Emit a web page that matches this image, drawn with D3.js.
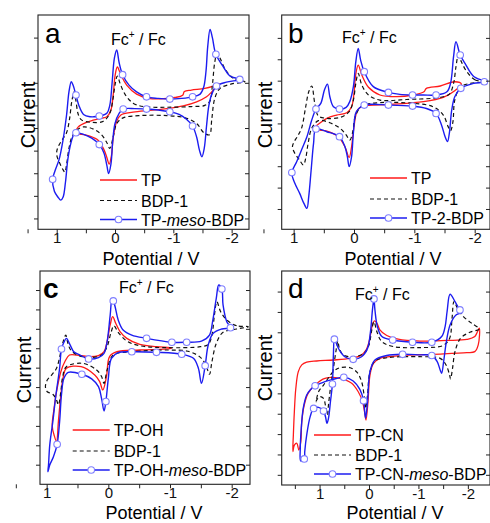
<!DOCTYPE html>
<html>
<head>
<meta charset="utf-8">
<script src="https://cdn.jsdelivr.net/npm/d3@7"></script>
<style>
  body { margin: 0; background: #fff; }
  svg { display: block; font-family: Arial, "Liberation Sans", sans-serif; }
</style>
</head>
<body>
<svg id="chart" width="490" height="523"></svg>
<script>
// potential (V) vs current (arbitrary units, one unit = one y tick); third value 1 = symbol on the curve

// panel a
const aTP = [[-1.80,5.95],[-1.69,5.85],[-1.54,5.75],[-1.31,5.68],[-1.19,5.62],[-1.16,5.45],[-1.03,5.35],[-0.83,5.3],[-0.6,5.3],[-0.37,5.5],[-0.2,5.9],[-0.1,6.35],[-0.04,6.7],[0.0,6.3],[0.03,5.5],[0.07,4.8],[0.14,4.5],[0.26,4.42],[0.49,4.25],[0.63,4.05],[0.66,3.9],[0.64,3.75],[0.51,3.7],[0.31,3.5],[0.2,3.1],[0.14,2.7],[0.10,2.4],[0.06,2.8],[0.03,3.6],[-0.03,4.3],[-0.1,4.58],[-0.31,4.7],[-0.6,4.78],[-0.89,4.86],[-1.17,4.98],[-1.4,5.16],[-1.57,5.38],[-1.69,5.68]];
const aBDP = [[-2.23,6.05],[-2.03,6.2],[-1.89,6.6],[-1.80,7.1],[-1.75,7.3],[-1.71,6.9],[-1.67,5.9],[-1.63,5.2],[-1.54,5.0],[-1.31,4.95],[-0.89,4.92],[-0.49,4.95],[-0.31,5.1],[-0.17,5.5],[-0.09,5.95],[-0.04,6.3],[0.0,5.9],[0.04,5.2],[0.09,4.65],[0.2,4.3],[0.4,4.25],[0.57,4.35],[0.63,4.6],[0.67,5.2],[0.70,5.6],[0.74,5.2],[0.78,4.4],[0.83,3.8],[0.9,3.5],[0.97,3.2],[1.0,2.95],[0.99,2.7],[0.94,2.4],[0.89,2.15],[0.86,2.05],[0.83,2.4],[0.79,3.1],[0.74,3.6],[0.66,3.9],[0.54,4.05],[0.37,3.95],[0.23,3.7],[0.14,3.35],[0.09,3.1],[0.04,3.5],[-0.03,4.2],[-0.14,4.45],[-0.43,4.55],[-0.89,4.55],[-1.2,4.45],[-1.4,4.2],[-1.52,3.8],[-1.62,3.7],[-1.66,4.4],[-1.71,5.3],[-1.80,5.75],[-2.0,5.95]];
const aMeso = [[-2.14,6.15,1],[-1.97,6.30],[-1.86,6.70],[-1.73,7.26,1],[-1.67,8.0],[-1.63,8.36],[-1.59,7.6],[-1.56,6.5],[-1.52,5.8],[-1.46,5.5],[-1.33,5.38,1],[-1.14,5.31],[-0.94,5.28,1],[-0.74,5.31],[-0.54,5.38,1],[-0.37,5.6],[-0.24,5.9],[-0.13,6.36,1],[-0.07,6.9],[-0.03,7.45],[0.01,7.1],[0.05,6.0],[0.09,5.0],[0.14,4.65],[0.27,4.53,1],[0.43,4.5],[0.54,4.6],[0.62,5.0],[0.67,5.46,1],[0.72,5.9],[0.75,6.05],[0.79,5.6],[0.83,4.6],[0.89,3.5],[0.96,2.6],[1.03,2.1],[1.07,1.73,1],[1.04,1.2],[0.98,0.95],[0.93,0.81],[0.89,0.95],[0.85,1.6],[0.81,2.6],[0.76,3.3],[0.71,3.7],[0.67,3.79,1],[0.54,3.72],[0.40,3.55],[0.27,3.27,1],[0.19,2.9],[0.14,2.35],[0.11,1.99],[0.07,2.4],[0.04,3.4],[0.0,4.2],[-0.07,4.65],[-0.14,4.84,1],[-0.34,4.86],[-0.54,4.84,1],[-0.74,4.80],[-0.94,4.72,1],[-1.1,4.6],[-1.22,4.4],[-1.33,4.09,1],[-1.40,3.6],[-1.45,3.0],[-1.49,2.73],[-1.53,3.1],[-1.57,4.1],[-1.61,5.0],[-1.66,5.5],[-1.74,5.86,1],[-1.91,6.03]];

// panel b
const bTP = [[-1.78,5.84],[-1.67,5.95],[-1.43,5.75],[-1.20,5.64],[-1.16,5.48],[-0.98,5.33],[-0.71,5.25],[-0.43,5.33],[-0.24,5.69],[-0.13,6.26],[-0.07,6.73],[-0.03,6.31],[0.0,5.40],[0.04,4.78],[0.12,4.50],[0.29,4.39],[0.45,4.24],[0.56,4.03],[0.63,3.85],[0.61,3.72],[0.45,3.64],[0.26,3.38],[0.15,2.91],[0.08,2.41],[0.04,2.91],[0.0,3.85],[-0.06,4.63],[-0.15,4.81],[-0.60,4.89],[-1.15,5.02],[-1.48,5.22],[-1.67,5.53]];
const bBDP = [[-2.17,5.95],[-2.01,6.03],[-1.87,6.42],[-1.78,6.88],[-1.73,7.20],[-1.69,6.65],[-1.65,5.87],[-1.58,5.37],[-1.43,5.22],[-0.87,5.12],[-0.43,5.09],[-0.24,5.33],[-0.13,5.79],[-0.07,6.34],[-0.03,5.87],[0.01,5.09],[0.08,4.55],[0.23,4.28],[0.45,4.24],[0.59,4.35],[0.65,4.94],[0.70,5.75],[0.75,5.48],[0.80,4.78],[0.87,3.77],[0.94,3.38],[0.99,3.15],[1.02,2.91],[0.98,2.60],[0.91,2.32],[0.84,2.06],[0.80,2.37],[0.76,3.07],[0.70,3.77],[0.59,4.13],[0.40,4.03],[0.23,3.77],[0.13,3.46],[0.07,3.22],[0.02,3.61],[-0.02,4.31],[-0.13,4.81],[-0.43,4.97],[-0.98,4.94],[-1.31,4.78],[-1.48,4.39],[-1.56,3.85],[-1.60,3.66],[-1.64,4.08],[-1.67,5.09],[-1.76,5.69],[-1.92,5.87]];
const b2BDP = [[-2.16,5.95,1],[-1.98,6.21],[-1.84,6.81],[-1.76,7.20,1],[-1.69,7.82],[-1.65,7.12],[-1.60,5.87],[-1.54,5.48],[-1.36,5.33,1],[-1.15,5.33],[-0.97,5.33,1],[-0.76,5.36],[-0.57,5.45,1],[-0.32,5.72],[-0.17,6.42,1],[-0.11,6.96],[-0.07,7.51],[-0.03,6.88],[0.01,5.72],[0.07,5.02],[0.13,4.75],[0.24,4.67,1],[0.34,4.78],[0.40,5.25],[0.44,5.84],[0.49,5.56],[0.55,4.94],[0.63,4.67,1],[0.70,4.16],[0.78,3.38],[0.87,2.76],[0.95,2.21],[1.03,1.70,1],[0.98,1.20],[0.90,0.73],[0.83,0.26],[0.78,0.03],[0.75,0.58],[0.71,1.82],[0.67,3.07],[0.63,3.74,1],[0.45,3.61],[0.24,3.38,1],[0.15,2.91],[0.11,2.45],[0.08,1.98],[0.04,2.45],[0.01,3.54],[-0.04,4.55],[-0.17,4.86,1],[-0.57,4.86,1],[-0.97,4.81,1],[-1.20,4.70],[-1.36,4.47,1],[-1.45,3.93],[-1.51,3.38],[-1.55,3.15],[-1.58,3.54],[-1.62,4.63],[-1.67,5.25],[-1.77,5.64,1],[-1.98,5.87]];

// panel c
const cTPOH = [[-1.03,6.03],[-0.78,6.08],[-0.51,6.20],[-0.30,6.51],[-0.19,6.86],[-0.12,7.29],[-0.07,7.63],[-0.03,7.20],[0.02,6.34],[0.07,5.82],[0.16,5.62],[0.33,5.57],[0.51,5.65],[0.63,5.65],[0.70,5.34],[0.77,4.79],[0.84,3.76],[0.88,2.90],[0.91,1.99],[0.88,1.53],[0.84,1.19],[0.81,2.22],[0.77,3.59],[0.73,4.54],[0.68,4.97],[0.44,5.05],[0.22,4.62],[0.14,4.28],[0.09,3.85],[0.03,4.54],[-0.02,5.57],[-0.14,5.82],[-0.51,5.91],[-1.0,5.98]];
const cBDP = [[-2.27,7.11],[-2.08,7.16],[-1.92,7.46],[-1.82,7.89],[-1.76,8.40],[-1.72,7.71],[-1.68,6.68],[-1.62,6.20],[-1.49,6.08],[-0.95,6.03],[-0.51,6.13],[-0.30,6.37],[-0.16,6.82],[-0.09,7.16],[-0.04,6.77],[0.02,6.08],[0.11,5.65],[0.30,5.52],[0.50,5.65],[0.61,5.91],[0.66,6.31],[0.69,6.68],[0.73,6.37],[0.77,5.82],[0.84,4.97],[0.92,4.62],[0.99,4.36],[1.02,4.02],[0.99,3.76],[0.90,3.63],[0.84,3.33],[0.81,3.08],[0.77,3.76],[0.74,4.54],[0.68,5.05],[0.41,5.22],[0.19,4.88],[0.11,4.54],[0.07,4.19],[0.02,4.88],[-0.08,5.65],[-0.41,5.82],[-0.95,5.91],[-1.32,5.82],[-1.51,5.48],[-1.59,5.05],[-1.64,4.66],[-1.68,5.31],[-1.75,6.25],[-1.86,6.82],[-2.08,6.99]];
const cMeso = [[-1.98,7.06,1],[-1.92,7.37],[-1.86,8.23],[-1.84,9.05,1],[-1.79,9.26],[-1.75,8.57],[-1.69,7.37],[-1.64,6.68],[-1.51,6.37],[-1.27,6.31,1],[-1.03,6.31,1],[-0.62,6.51,1],[-0.38,6.68],[-0.24,6.94],[-0.16,7.46],[-0.11,8.14],[-0.08,8.44,1],[-0.06,8.49],[-0.03,7.71],[0.02,6.34],[0.07,5.74],[0.16,5.52],[0.32,5.45,1],[0.46,5.65],[0.56,5.82],[0.62,6.17],[0.68,6.51],[0.72,6.31],[0.76,5.96,1],[0.79,4.97],[0.85,3.59],[0.90,2.22],[0.95,1.01],[0.97,-0.02],[0.98,-0.36],[0.95,-0.02],[0.89,0.41],[0.83,1.05,1],[0.79,2.22],[0.76,3.59],[0.72,4.45],[0.65,4.76],[0.43,4.66,1],[0.27,4.42],[0.16,4.02],[0.11,3.42],[0.07,2.77],[0.04,3.25,1],[0.0,4.45],[-0.05,5.48],[-0.16,5.77],[-0.38,5.82,1],[-0.78,5.79,1],[-1.19,5.69,1],[-1.38,5.48],[-1.46,4.97],[-1.51,4.19],[-1.57,5.10,1],[-1.62,6.17],[-1.70,6.77],[-1.84,6.99]];

// panel d
const dTPCN = [[-2.23,7.20],[-2.14,6.79],[-1.98,6.65],[-1.57,6.60],[-1.03,6.57],[-0.59,6.66],[-0.36,6.84],[-0.22,7.12],[-0.16,7.45],[-0.11,7.56],[-0.06,7.28],[-0.01,6.62],[0.06,6.13],[0.18,5.84],[0.38,5.72],[0.72,5.64],[1.06,5.59],[1.26,5.53],[1.36,5.40],[1.43,5.07],[1.48,4.25],[1.51,3.10],[1.53,1.96],[1.54,1.14],[1.51,1.46],[1.46,1.55],[1.42,1.22],[1.38,1.63],[1.36,2.61],[1.31,3.43],[1.23,4.01],[1.09,4.42],[0.89,4.74],[0.59,4.74],[0.35,4.50],[0.22,4.09],[0.13,3.59],[0.08,2.94],[0.06,2.69],[0.02,3.59],[-0.02,4.90],[-0.09,5.47],[-0.22,5.72],[-0.63,5.85],[-1.30,5.92],[-1.98,6.00],[-2.14,6.05],[-2.21,6.38]];
const dBDP = [[-2.23,7.16],[-2.08,7.44],[-1.91,7.77],[-1.79,8.18],[-1.72,8.51],[-1.68,7.69],[-1.63,6.70],[-1.50,6.35],[-1.03,6.25],[-0.49,6.30],[-0.26,6.54],[-0.16,7.03],[-0.10,7.52],[-0.05,7.03],[0.0,6.38],[0.10,5.97],[0.32,5.80],[0.52,5.89],[0.60,6.21],[0.63,6.57],[0.67,6.05],[0.72,5.23],[0.78,4.25],[0.82,3.43],[0.84,2.94],[0.88,3.40],[0.92,3.75],[0.99,3.84],[1.06,3.67],[1.07,3.59],[1.02,4.08],[0.92,4.41],[0.72,5.07],[0.59,5.26],[0.38,5.26],[0.24,5.03],[0.15,4.58],[0.10,3.92],[0.07,3.26],[0.03,3.92],[-0.02,5.07],[-0.12,5.59],[-0.36,5.75],[-1.03,5.80],[-1.44,5.72],[-1.56,5.39],[-1.63,4.90],[-1.65,4.71],[-1.69,5.23],[-1.74,6.05],[-1.85,6.70],[-2.04,7.0]];
const dMeso = [[-1.89,7.98],[-1.84,8.10,1],[-1.74,8.51],[-1.64,8.87],[-1.58,8.02],[-1.54,7.28],[-1.47,6.79],[-1.27,6.51,1],[-0.88,6.51,1],[-0.48,6.62,1],[-0.26,6.79],[-0.17,7.28],[-0.12,8.10],[-0.10,8.64,1],[-0.07,8.10],[-0.03,7.03],[0.03,6.21],[0.15,5.80],[0.32,5.67,1],[0.49,5.80],[0.60,6.13],[0.67,6.51],[0.70,6.66,1],[0.72,5.89],[0.74,4.46,1],[0.78,3.59],[0.82,2.77],[0.85,2.53],[0.88,2.85],[0.92,3.13,1],[1.02,3.31],[1.12,3.26,1],[1.19,2.86],[1.26,1.96],[1.30,1.14],[1.31,0.78,1],[1.38,0.68],[1.39,1.30],[1.37,2.28],[1.33,3.27],[1.26,3.92],[1.19,4.17],[1.09,4.37,1],[0.89,4.58],[0.74,4.68],[0.51,4.79,1],[0.32,4.61],[0.18,4.17],[0.11,3.64,1],[0.07,2.78],[0.03,3.59],[-0.02,5.07],[-0.12,5.64],[-0.36,5.86],[-0.68,5.92,1],[-1.03,5.89],[-1.27,5.86,1],[-1.38,5.56],[-1.44,5.15],[-1.47,4.99],[-1.51,5.56],[-1.56,6.46],[-1.64,7.36],[-1.76,7.85]];

const legendA = ['TP', 'BDP-1', 'TP-meso-BDP'];
const legendB = ['TP', 'BDP-1', 'TP-2-BDP'];
const legendC = ['TP-OH', 'BDP-1', 'TP-OH-meso-BDP'];
const legendD = ['TP-CN', 'BDP-1', 'TP-CN-meso-BDP'];
const xMajor = [1, 0, -1, -2];
const xMinor = [1.5, 0.5, -0.5, -1.5];

const styles = [
  {stroke: '#ff1a1a', width: 1.3, dash: null},
  {stroke: '#111', width: 1.2, dash: '4,3'},
  {stroke: '#1c1cf0', width: 1.4, dash: null}
];

const panels = [
  {letter: 'a', left: 38, right: 249, top: 15, bottom: 229.3, xDom: [1.321, -2.298], yDom: [-0.48, 9.0], yTicks: d3.range(0, 9),
   series: [aTP, aBDP, aMeso], names: legendA, legX: 100, legY: [180, 200.5, 219.5], fcX: 111, fcY: 45,
   letX: 45, letY: 43, curX: 35, curY: 115, potX: 151, potY: 265},
  {letter: 'b', left: 281.7, right: 490, top: 15, bottom: 229.3, xDom: [1.198, -2.254], yDom: [-0.95, 9.07], yTicks: d3.range(0, 9),
   series: [bTP, bBDP, b2BDP], names: legendB, legX: 370, legY: [178, 199, 218], fcX: 342, fcY: 43,
   letX: 288, letY: 43, curX: 272, curY: 115, potX: 393, potY: 265},
  {letter: 'c', left: 40, right: 250, top: 271, bottom: 484.3, xDom: [1.108, -2.297], yDom: [-1.01, 9.98], yTicks: d3.range(0, 10),
   series: [cTPOH, cBDP, cMeso], names: legendC, legX: 72.7, legY: [430, 451, 470], fcX: 119, fcY: 293,
   letX: 43, letY: 298, curX: 31, curY: 370, potX: 154, potY: 519},
  {letter: 'd', left: 281.7, right: 490, top: 271, bottom: 485, xDom: [1.766, -2.448], yDom: [-0.5, 10.01], yTicks: d3.range(0, 10),
   series: [dTPCN, dBDP, dMeso], names: legendD, legX: 314, legY: [435, 455, 474], fcX: 355, fcY: 300,
   letX: 288, letY: 298, curX: 272, curY: 368, potX: 395, potY: 519}
];

const svg = d3.select('#chart');

panels.forEach((p, pi) => {
  const x = d3.scaleLinear().domain(p.xDom).range([p.left, p.right]);
  const y = d3.scaleLinear().domain(p.yDom).range([p.bottom, p.top]);
  const g = svg.append('g');

  svg.append('clipPath').attr('id', 'clip' + pi)
    .append('rect').attr('x', p.left).attr('y', p.top)
    .attr('width', p.right - p.left).attr('height', p.bottom - p.top);

  const line = d3.line()
    .x(d => x(d[0])).y(d => y(d[1]))
    .curve(d3.curveCatmullRomClosed.alpha(0.5));

  const plot = g.append('g').attr('clip-path', `url(#clip${pi})`);
  p.series.forEach((s, i) => {
    plot.append('path').datum(s)
      .attr('d', line)
      .attr('fill', 'none')
      .attr('stroke', styles[i].stroke)
      .attr('stroke-width', styles[i].width)
      .attr('stroke-dasharray', styles[i].dash)
      .attr('stroke-linejoin', 'round');
  });
  plot.selectAll('circle.m').data(p.series[2].filter(d => d[2]))
    .enter().append('circle').attr('class', 'm')
    .attr('cx', d => x(d[0])).attr('cy', d => y(d[1])).attr('r', 3.3)
    .attr('fill', '#fff').attr('stroke', '#7f7fff').attr('stroke-width', 1.1);

  // axes
  const xb = g.append('g').attr('transform', `translate(0,${p.bottom})`)
    .call(d3.axisBottom(x).tickValues(xMajor).tickSize(4).tickFormat(d => String(d)));
  g.append('g').attr('transform', `translate(0,${p.bottom})`)
    .call(d3.axisBottom(x).tickValues(xMinor).tickSize(4).tickFormat(''));
  g.append('g').attr('transform', `translate(${p.left},0)`)
    .call(d3.axisLeft(y).tickValues(p.yTicks).tickSize(4).tickFormat(''));
  g.append('g').attr('transform', `translate(${p.right},0)`)
    .call(d3.axisLeft(y).tickValues(p.yTicks).tickSize(-4).tickFormat(''))
    .selectAll('line').attr('x2', -4);
  g.selectAll('.domain').remove();
  g.selectAll('.tick line').attr('stroke', '#222');
  xb.selectAll('text').attr('y', 3.5).attr('dy', '0.71em').attr('font-size', 15)
    .attr('font-family', 'Arial, "Liberation Sans", sans-serif').attr('fill', '#111');

  g.append('rect').attr('x', p.left).attr('y', p.top)
    .attr('width', p.right - p.left).attr('height', p.bottom - p.top)
    .attr('fill', 'none').attr('stroke', '#222').attr('stroke-width', 1.1);

  // labels
  g.append('text').attr('x', p.letX).attr('y', p.letY)
    .attr('font-size', 28).attr('font-weight', p.letter === 'c' ? 'bold' : 'normal').text(p.letter);

  const fc = g.append('text').attr('x', p.fcX).attr('y', p.fcY).attr('font-size', 16);
  fc.append('tspan').text('Fc');
  fc.append('tspan').attr('font-size', 10).attr('dy', -7).text('+');
  fc.append('tspan').attr('dy', 7).text(' / Fc');

  g.append('text').attr('transform', `translate(${p.curX},${p.curY}) rotate(-90)`)
    .attr('text-anchor', 'middle').attr('font-size', 20).text('Current');

  g.append('text').attr('x', p.potX).attr('y', p.potY)
    .attr('text-anchor', 'middle').attr('font-size', 18).text('Potential / V');

  // legend
  p.names.forEach((name, i) => {
    const ly = p.legY[i];
    g.append('line').attr('x1', p.legX).attr('x2', p.legX + 37).attr('y1', ly).attr('y2', ly)
      .attr('stroke', styles[i].stroke).attr('stroke-width', styles[i].width)
      .attr('stroke-dasharray', styles[i].dash);
    if (i === 2) {
      g.append('circle').attr('cx', p.legX + 18.5).attr('cy', ly).attr('r', 3.3)
        .attr('fill', '#fff').attr('stroke', '#7f7fff').attr('stroke-width', 1.1);
    }
    const t = g.append('text').attr('x', p.legX + 41).attr('y', ly + 6).attr('font-size', 16);
    const parts = name.split('meso');
    parts.forEach((part, k) => {
      t.append('tspan').text(part);
      if (k < parts.length - 1) t.append('tspan').attr('font-style', 'italic').text('meso');
    });
  });
});
</script>
</body>
</html>
